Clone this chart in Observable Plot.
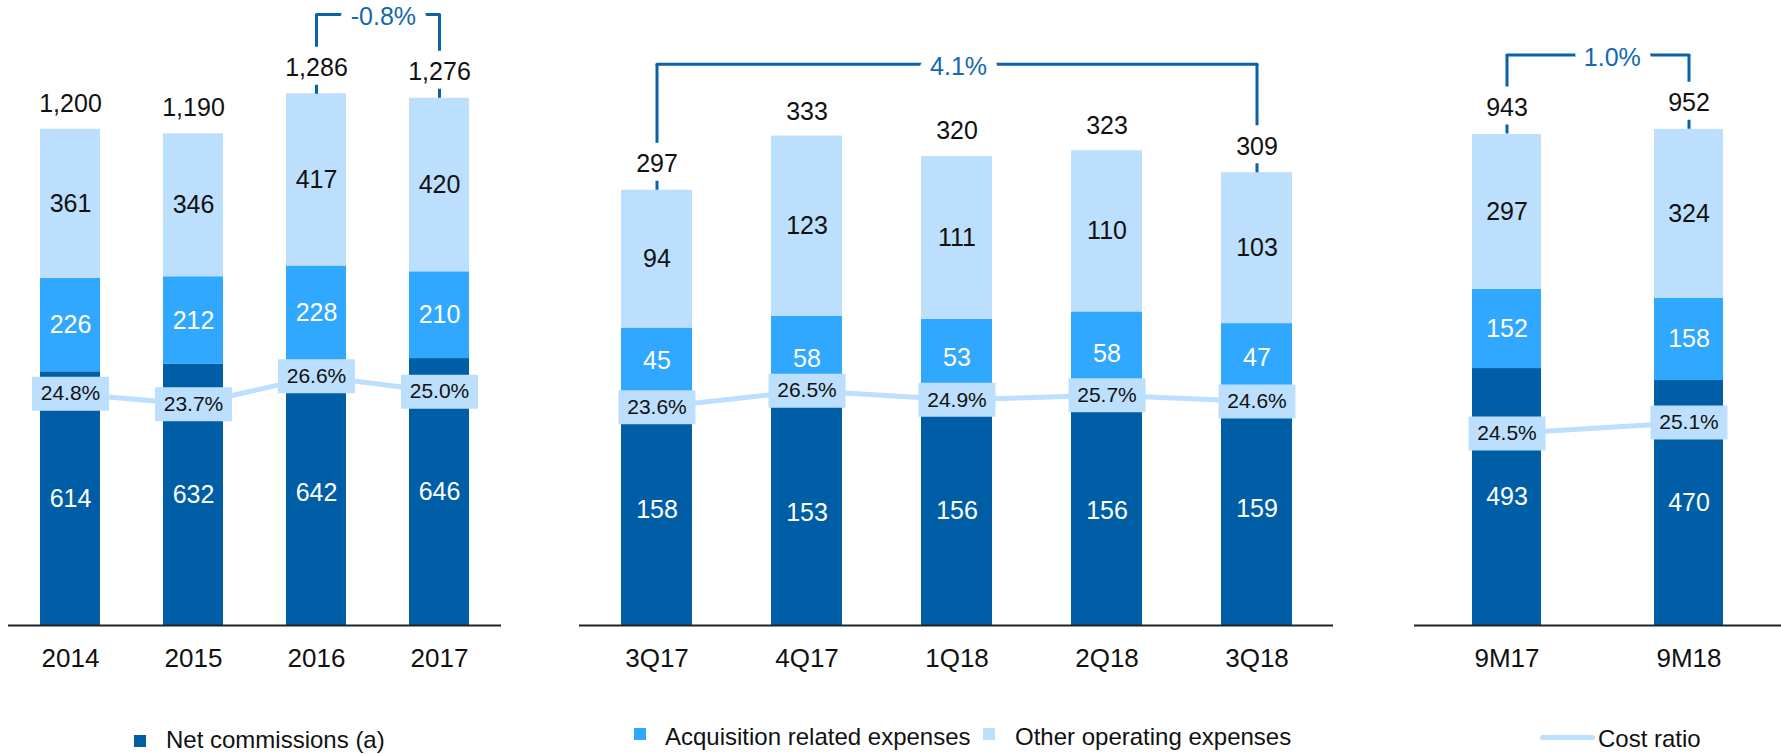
<!DOCTYPE html>
<html><head><meta charset="utf-8">
<script src="https://cdn.jsdelivr.net/npm/d3@7"></script>
<script src="https://cdn.jsdelivr.net/npm/@observablehq/plot@0.6"></script>
<style>
body{margin:0;background:#fff;font-family:"Liberation Sans",Arial,sans-serif;}
#wrap{position:relative;width:1781px;height:754px;overflow:hidden;background:#fff;}
.panel{position:absolute;top:0;}
.leg{position:absolute;font-size:24px;line-height:24px;color:#111;white-space:nowrap;}
.sw{position:absolute;width:12px;height:12px;}
</style></head>
<body>
<div id="wrap">
  <div id="p1" class="panel" style="left:0px"></div>
  <div id="p2" class="panel" style="left:560px"></div>
  <div id="p3" class="panel" style="left:1400px"></div>
</div>
<script>
// ---- data ----
const seriesNames = ["Net commissions (a)", "Acquisition related expenses", "Other operating expenses"];
const ratioName = "Cost ratio";

const annualCats = ["2014", "2015", "2016", "2017"];
const annualNet = [614, 632, 642, 646];
const annualAcq = [226, 212, 228, 210];
const annualOther = [361, 346, 417, 420];
const annualTotal = [1200, 1190, 1286, 1276];
const annualRatio = [24.8, 23.7, 26.6, 25.0];

const quarterCats = ["3Q17", "4Q17", "1Q18", "2Q18", "3Q18"];
const quarterNet = [158, 153, 156, 156, 159];
const quarterAcq = [45, 58, 53, 58, 47];
const quarterOther = [94, 123, 111, 110, 103];
const quarterTotal = [297, 333, 320, 323, 309];
const quarterRatio = [23.6, 26.5, 24.9, 25.7, 24.6];

const ytdCats = ["9M17", "9M18"];
const ytdNet = [493, 470];
const ytdAcq = [152, 158];
const ytdOther = [297, 324];
const ytdTotal = [943, 952];
const ytdRatio = [24.5, 25.1];

const growthFrom = ["2016", "3Q17", "9M17"];
const growthTo = ["2017", "3Q18", "9M18"];
const growthLabel = ["-0.8%", "4.1%", "1.0%"];

// ---- styling ----
const colors = ["#005ea6", "#31a8ff", "#bbdffc"];
const bracketBlue = "#0b61aa";
const growthBlue = "#1467b0";
const FONT = "'Liberation Sans', Arial, sans-serif";

function boxSymbol(w, h) {
  return {draw(ctx) { ctx.moveTo(-w / 2, -h / 2); ctx.lineTo(w / 2, -h / 2); ctx.lineTo(w / 2, h / 2); ctx.lineTo(-w / 2, h / 2); ctx.closePath(); }};
}

function panel(cfg) {
  const {cats, net, acq, other, total, ratio, yMax, ratioDomain, width, marginLeft, marginRight, paddingInner, paddingOuter, g, labelShift} = cfg;
  const height = 680, marginBottom = 55, marginTop = 0;
  const vals = [net, acq, other];
  const segs = [];
  cats.forEach((c, i) => {
    let base = 0;
    seriesNames.forEach((s, k) => {
      const v = vals[k][i];
      segs.push({cat: c, series: s, y1: base, y2: base + v, mid: base + v / 2, label: String(v)});
      base += v;
    });
  });
  const toY = d3.scaleLinear().domain(ratioDomain).range([0, yMax]);
  const ratioRows = cats.map((c, i) => ({cat: c, y: toY(ratio[i]), label: ratio[i].toFixed(1) + "%"}));
  const totals = cats.map((c, i) => ({cat: c, total: total[i], label: d3.format(",")(total[i])}));
  const level = d3.max(total) * 1.15;
  const from = growthFrom[g], to = growthTo[g];
  const brk = [from, to].map(c => ({cat: c, total: total[cats.indexOf(c)], level}));
  const plotW = width - marginLeft - marginRight;
  const step = plotW / (cats.length - paddingInner + 2 * paddingOuter);
  const midDx = (cats.indexOf(to) - cats.indexOf(from)) * step / 2 + (labelShift || 0);

  return Plot.plot({
    width, height, marginTop, marginBottom, marginLeft, marginRight,
    style: {fontFamily: FONT, fontSize: "26px", color: "#111", background: "transparent", overflow: "visible"},
    x: {domain: cats, paddingInner, paddingOuter, tickSize: 0, tickPadding: 23, label: null},
    y: {domain: [0, yMax], axis: null},
    color: {domain: seriesNames, range: colors},
    marks: [
      Plot.barY(segs, {x: "cat", y1: "y1", y2: "y2", fill: "series"}),
      Plot.text(segs.filter(d => d.series !== seriesNames[2]), {x: "cat", y: "mid", text: "label", fill: "white", fontSize: 25}),
      Plot.text(segs.filter(d => d.series === seriesNames[2]), {x: "cat", y: "mid", text: "label", fill: "#111", fontSize: 25}),
      Plot.ruleY([0], {stroke: "#222", strokeWidth: 2}),
      Plot.lineY(ratioRows, {x: "cat", y: "y", stroke: colors[2], strokeWidth: 5}),
      Plot.dot(ratioRows, {x: "cat", y: "y", symbol: boxSymbol(77, 34), r: 10, fill: colors[2], stroke: "none"}),
      Plot.text(ratioRows, {x: "cat", y: "y", text: "label", fill: "#111", fontSize: 21}),
      Plot.text(totals, {x: "cat", y: "total", text: "label", fill: "#111", fontSize: 25, dy: -26}),
      Plot.ruleX(brk, {x: "cat", y1: "total", y2: "level", stroke: bracketBlue, strokeWidth: 3, strokeDasharray: "9,38,3000"}),
      Plot.lineY(brk, {x: "cat", y: "level", stroke: bracketBlue, strokeWidth: 3}),
      Plot.text([brk[0]], {x: "cat", y: "level", text: () => growthLabel[g], fill: growthBlue, stroke: "white", strokeWidth: 22, fontSize: 25, dx: midDx, dy: 3})
    ]
  });
}

document.getElementById("p1").appendChild(panel({
  cats: annualCats, net: annualNet, acq: annualAcq, other: annualOther, total: annualTotal, ratio: annualRatio,
  yMax: 1512.6, ratioDomain: [0.70, 65.67], width: 510, marginLeft: 8, marginRight: 9, paddingInner: 0.515, paddingOuter: 0.25, g: 0, labelShift: 5
}));
document.getElementById("p2").appendChild(panel({
  cats: quarterCats, net: quarterNet, acq: quarterAcq, other: quarterOther, total: quarterTotal, ratio: quarterRatio,
  yMax: 426.5, ratioDomain: [-14.55, 94.72], width: 790, marginLeft: 19, marginRight: 17, paddingInner: 0.529, paddingOuter: 0.265, g: 1, labelShift: 0
}));
document.getElementById("p3").appendChild(panel({
  cats: ytdCats, net: ytdNet, acq: ytdAcq, other: ytdOther, total: ytdTotal, ratio: ytdRatio,
  yMax: 1199.2, ratioDomain: [14.02, 48.12], width: 381, marginLeft: 14, marginRight: 0, paddingInner: 0.621, paddingOuter: 0.315, g: 2, labelShift: 14
}));

// ---- legend (HTML, below the plots) ----
const wrap = document.getElementById("wrap");
function addSwatch(left, top, color) {
  const s = document.createElement("div");
  s.className = "sw"; s.style.left = left + "px"; s.style.top = top + "px"; s.style.background = color;
  wrap.appendChild(s);
}
function addText(left, top, txt) {
  const t = document.createElement("div");
  t.className = "leg"; t.style.left = left + "px"; t.style.top = top + "px"; t.textContent = txt;
  wrap.appendChild(t);
}
addSwatch(134, 735, colors[0]); addText(166, 728, seriesNames[0]);
addSwatch(634, 728, colors[1]); addText(665, 725, seriesNames[1]);
addSwatch(983, 728, colors[2]); addText(1015, 725, seriesNames[2]);
const ln = document.createElement("div");
ln.style.cssText = "position:absolute;left:1540px;top:735px;width:55px;height:5px;border-radius:3px;background:" + colors[2];
wrap.appendChild(ln);
addText(1598, 727, ratioName);
</script>
</body></html>
